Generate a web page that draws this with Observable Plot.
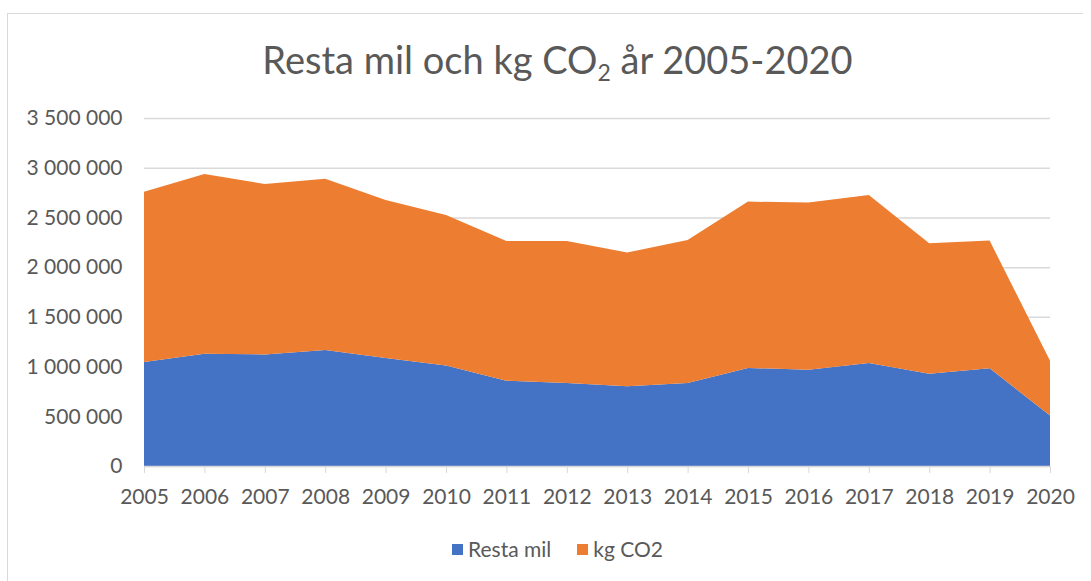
<!DOCTYPE html>
<html>
<head>
<meta charset="utf-8">
<script src="https://cdn.jsdelivr.net/npm/d3@7"></script>
<script src="https://cdn.jsdelivr.net/npm/@observablehq/plot@0.6"></script>
<style>
  html, body { margin: 0; padding: 0; background: #fff; }
  #wrap { position: relative; width: 1091px; height: 581px; overflow: hidden; font-family: Lato, "Open Sans", sans-serif; color: #595959; }
  #frame { position: absolute; left: 7px; top: 13px; width: 1076px; height: 620px; border: 1.5px solid #d9d9d9; border-right: none; box-sizing: border-box; }
  #title { position: absolute; left: 0; top: 34px; width: 1091px; padding-left: 24px; box-sizing: border-box; text-align: center; font-size: 38px; line-height: 50px; white-space: nowrap; }
  #title sub { font-size: 23px; vertical-align: -7px; line-height: 0; }
  #chart { position: absolute; left: 0; top: 100px; }
  #legend { position: absolute; left: 0; top: 535px; width: 1091px; padding-left: 24px; box-sizing: border-box; display: flex; justify-content: center; gap: 26px; font-size: 21px; line-height: 28px; }
  .item { display: flex; align-items: center; gap: 5px; }
  .sw { width: 11px; height: 11px; display: inline-block; }
</style>
</head>
<body>
<div id="wrap">
  <div id="frame"></div>
  <div id="title">Resta mil och kg CO<sub>2</sub> år 2005-2020</div>
  <div id="chart"></div>
  <div id="legend"></div>
</div>
<script>
const years = [2005, 2006, 2007, 2008, 2009, 2010, 2011, 2012, 2013, 2014, 2015, 2016, 2017, 2018, 2019, 2020];
const restaMil = [1046000, 1129000, 1122000, 1167000, 1086000, 1012000, 858000, 835000, 801000, 835000, 986000, 969000, 1036000, 929000, 982000, 507000];
// totals (top edge of the stack)
const totals = [2759000, 2937000, 2836000, 2890000, 2676000, 2525000, 2264000, 2264000, 2147000, 2274000, 2659000, 2649000, 2726000, 2241000, 2267000, 1059000];
const kgCO2 = totals.map((t, i) => t - restaMil[i]);
const seriesNames = ["Resta mil", "kg CO2"];
const seriesColors = ["#4472C4", "#ED7D31"];
const yTicks = [0, 500000, 1000000, 1500000, 2000000, 2500000, 3000000, 3500000];

const data = [];
years.forEach((y, i) => data.push({year: y, series: seriesNames[0], value: restaMil[i]}));
years.forEach((y, i) => data.push({year: y, series: seriesNames[1], value: kgCO2[i]}));

const fmt = d => d3.format(",")(d).replace(/,/g, "\u00a0");

const chart = Plot.plot({
  width: 1091,
  height: 430,
  marginLeft: 144,
  marginRight: 41,
  marginTop: 18,
  marginBottom: 64,
  style: {fontFamily: "Lato, 'Open Sans', sans-serif", fontSize: "21px", color: "#595959", background: "transparent", overflow: "visible"},
  x: {domain: [2005, 2020], ticks: years, tickFormat: "d", label: null},
  y: {domain: [0, 3500000], ticks: yTicks, tickFormat: fmt, label: null},
  color: {domain: seriesNames, range: seriesColors},
  marks: [
    Plot.gridY(yTicks, {stroke: "#d9d9d9", strokeOpacity: 1, strokeWidth: 1.5}),
    Plot.areaY(data, {x: "year", y: "value", fill: "series", order: seriesNames}),
    Plot.ruleY([0], {stroke: "#d9d9d9", strokeWidth: 1.5}),
    Plot.axisY({ticks: yTicks, tickFormat: fmt, tickSize: 0, tickPadding: 22, label: null}),
    Plot.axisX({ticks: years, tickFormat: "d", tickSize: 7, tickPadding: 16, stroke: "#d9d9d9", label: null})
  ]
});
document.getElementById("chart").appendChild(chart);

const legend = document.getElementById("legend");
seriesNames.forEach((n, i) => {
  const it = document.createElement("div");
  it.className = "item";
  const sw = document.createElement("span");
  sw.className = "sw";
  sw.style.background = seriesColors[i];
  const t = document.createElement("span");
  t.textContent = n;
  it.appendChild(sw); it.appendChild(t);
  legend.appendChild(it);
});
</script>
</body>
</html>
